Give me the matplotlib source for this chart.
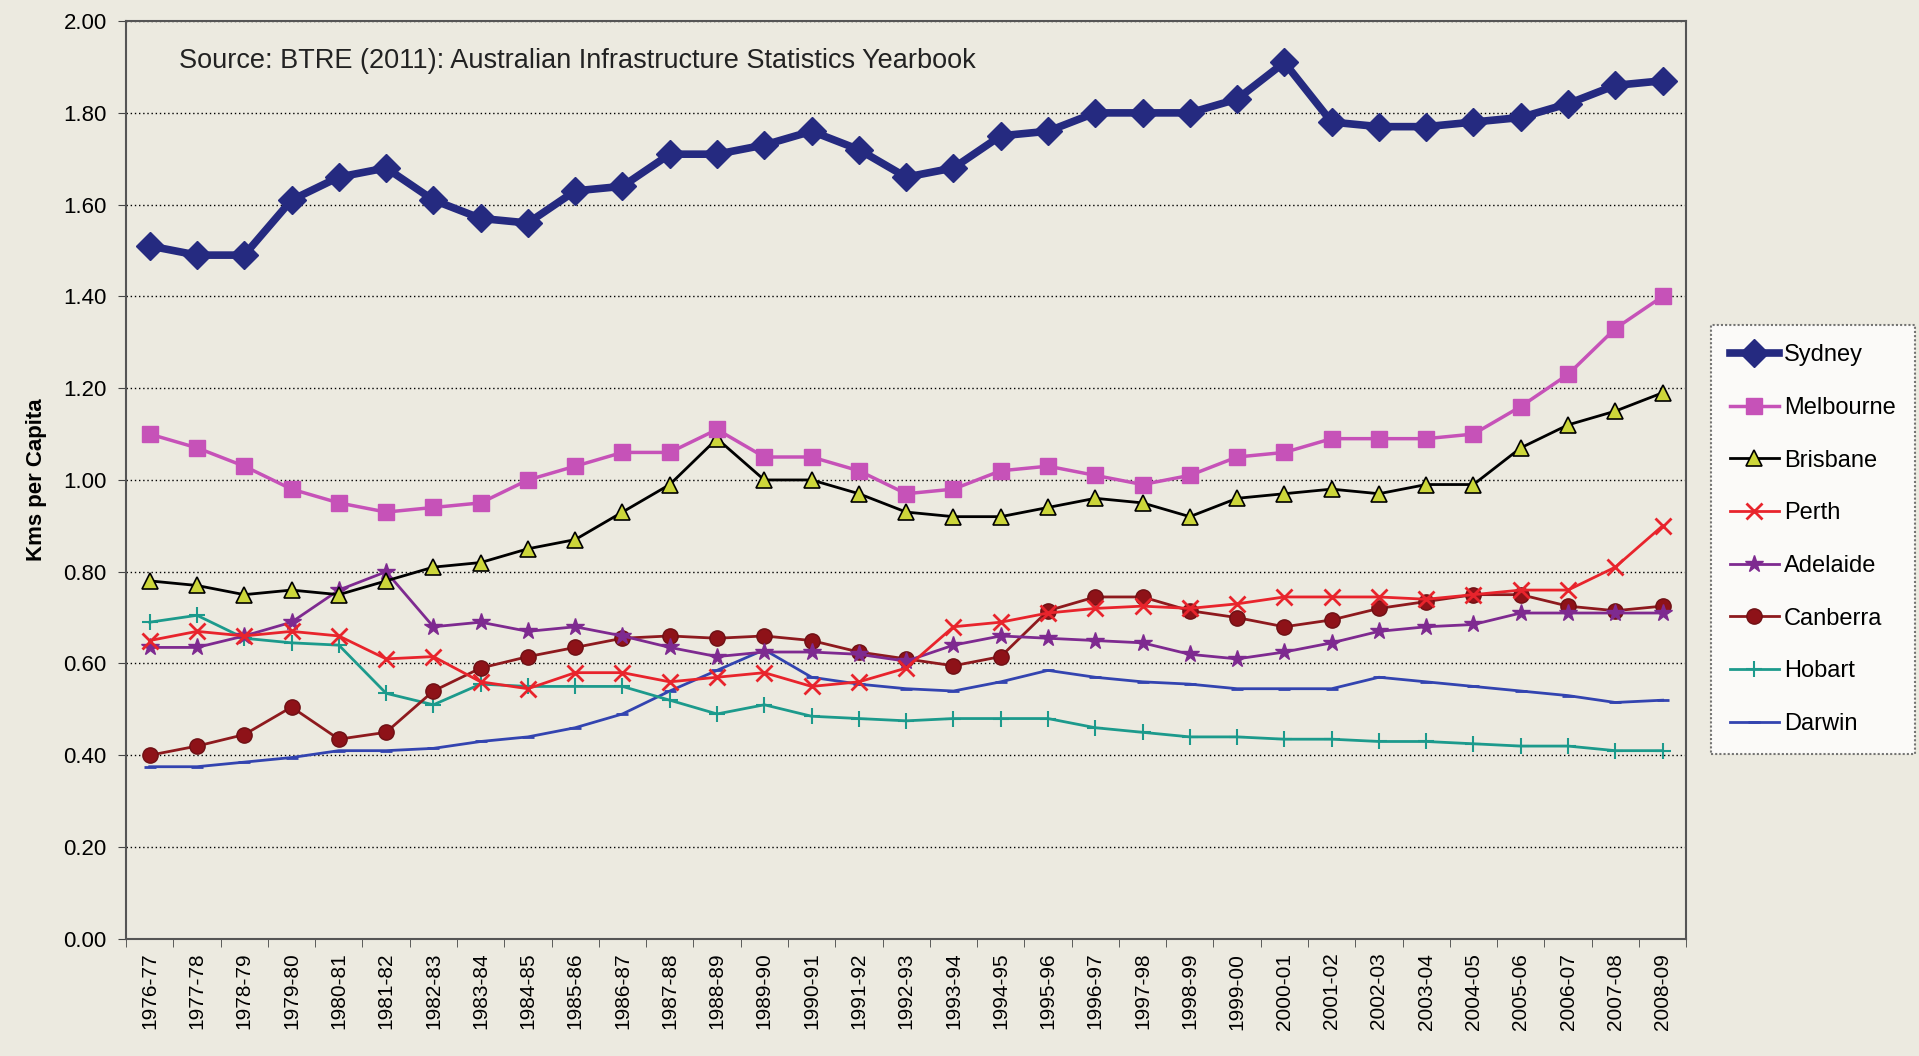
import matplotlib.pyplot as plt
import numpy as np

plt.rcParams['font.family'] = ['Liberation Sans', 'DejaVu Sans']

years = ['1976-77', '1977-78', '1978-79', '1979-80', '1980-81', '1981-82', '1982-83',
         '1983-84', '1984-85', '1985-86', '1986-87', '1987-88', '1988-89', '1989-90',
         '1990-91', '1991-92', '1992-93', '1993-94', '1994-95', '1995-96', '1996-97',
         '1997-98', '1998-99', '1999-00', '2000-01', '2001-02', '2002-03', '2003-04',
         '2004-05', '2005-06', '2006-07', '2007-08', '2008-09']

sydney = [1.51, 1.49, 1.49, 1.61, 1.66, 1.68, 1.61, 1.57, 1.56, 1.63, 1.64, 1.71, 1.71,
          1.73, 1.76, 1.72, 1.66, 1.68, 1.75, 1.76, 1.80, 1.80, 1.80, 1.83, 1.91, 1.78,
          1.77, 1.77, 1.78, 1.79, 1.82, 1.86, 1.87]
melbourne = [1.10, 1.07, 1.03, 0.98, 0.95, 0.93, 0.94, 0.95, 1.00, 1.03, 1.06, 1.06, 1.11,
             1.05, 1.05, 1.02, 0.97, 0.98, 1.02, 1.03, 1.01, 0.99, 1.01, 1.05, 1.06, 1.09,
             1.09, 1.09, 1.10, 1.16, 1.23, 1.33, 1.40]
brisbane = [0.78, 0.77, 0.75, 0.76, 0.75, 0.78, 0.81, 0.82, 0.85, 0.87, 0.93, 0.99, 1.09,
            1.00, 1.00, 0.97, 0.93, 0.92, 0.92, 0.94, 0.96, 0.95, 0.92, 0.96, 0.97, 0.98,
            0.97, 0.99, 0.99, 1.07, 1.12, 1.15, 1.19]
perth = [0.65, 0.67, 0.66, 0.67, 0.66, 0.61, 0.615, 0.56, 0.545, 0.58, 0.58, 0.56, 0.57,
         0.58, 0.55, 0.56, 0.59, 0.68, 0.69, 0.71, 0.72, 0.725, 0.72, 0.73, 0.745, 0.745,
         0.745, 0.74, 0.75, 0.76, 0.76, 0.81, 0.90]
adelaide = [0.635, 0.635, 0.66, 0.69, 0.76, 0.80, 0.68, 0.69, 0.67, 0.68, 0.66, 0.635, 0.615,
            0.625, 0.625, 0.62, 0.605, 0.64, 0.66, 0.655, 0.65, 0.645, 0.62, 0.61, 0.625,
            0.645, 0.67, 0.68, 0.685, 0.71, 0.71, 0.71, 0.71]
canberra = [0.40, 0.42, 0.445, 0.505, 0.435, 0.45, 0.54, 0.59, 0.615, 0.635, 0.655, 0.66,
            0.655, 0.66, 0.65, 0.625, 0.61, 0.595, 0.615, 0.715, 0.745, 0.745, 0.715, 0.70,
            0.68, 0.695, 0.72, 0.735, 0.75, 0.75, 0.725, 0.715, 0.725]
hobart = [0.69, 0.705, 0.655, 0.645, 0.64, 0.535, 0.51, 0.555, 0.55, 0.55, 0.55, 0.52, 0.49,
          0.51, 0.485, 0.48, 0.475, 0.48, 0.48, 0.48, 0.46, 0.45, 0.44, 0.44, 0.435, 0.435,
          0.43, 0.43, 0.425, 0.42, 0.42, 0.41, 0.41]
darwin = [0.375, 0.375, 0.385, 0.395, 0.41, 0.41, 0.415, 0.43, 0.44, 0.46, 0.49, 0.54, 0.585,
          0.63, 0.57, 0.555, 0.545, 0.54, 0.56, 0.585, 0.57, 0.56, 0.555, 0.545, 0.545,
          0.545, 0.57, 0.56, 0.55, 0.54, 0.53, 0.515, 0.52]

bg = '#ECEAE0'
fig = plt.figure(figsize=(19.19, 10.56), dpi=100, facecolor=bg)
ax = fig.add_axes([0.0657, 0.111, 0.813, 0.869])
ax.set_facecolor(bg)

x = np.arange(len(years))

# series drawn bottom-up so Sydney sits on top
ax.plot(x, darwin, color='#3344B0', lw=2, marker='_', ms=9, mew=2, label='Darwin')
ax.plot(x, hobart, color='#1C9A8C', lw=2, marker='+', ms=11, mew=1.5, label='Hobart')
ax.plot(x, canberra, color='#8E1A1E', lw=2, marker='o', ms=11, mfc='#8E1218', mec='#6E1014', label='Canberra')
ax.plot(x, adelaide, color='#7E2A90', lw=2, marker='*', ms=13, mew=1, label='Adelaide')
ax.plot(x, perth, color='#E8242C', lw=2, marker='x', ms=11, mew=2, label='Perth')
ax.plot(x, brisbane, color='black', lw=2, marker='^', ms=11, mfc='#CCD63A', mec='black', mew=1.2, label='Brisbane')
ax.plot(x, melbourne, color='#C652B8', lw=2.5, marker='s', ms=11, mfc='#C652B8', mec='#C652B8', label='Melbourne')
ax.plot(x, sydney, color='#252A80', lw=5.5, marker='D', ms=14, mfc='#252A80', mec='#252A80', label='Sydney')

ax.set_xlim(-0.5, len(years) - 0.5)
ax.set_ylim(0, 2.0)
ax.set_yticks(np.arange(0, 2.01, 0.2))
ax.set_yticklabels(['%.2f' % v for v in np.arange(0, 2.01, 0.2)], fontsize=16)
ax.set_xticks(x)
ax.set_xticklabels(years, rotation=90, fontsize=15)
ax.set_xticks(np.arange(-0.5, len(years), 1), minor=True)
ax.tick_params(axis='x', which='major', length=0, pad=10)
ax.tick_params(axis='x', which='minor', length=6, color='#444444')
ax.tick_params(axis='y', length=6, color='#444444', pad=8)

ax.yaxis.grid(True, color='black', linestyle=(0, (1, 2)), linewidth=1)
ax.set_axisbelow(True)
for s in ax.spines.values():
    s.set_linestyle((0, (1, 1)))
    s.set_color('#555555')
    s.set_linewidth(1.5)

ax.set_ylabel('Kms per Capita', fontsize=16, fontweight='bold', labelpad=12)

ax.text(0.62, 1.912, 'Source: BTRE (2011): Australian Infrastructure Statistics Yearbook',
        fontsize=19.5, color='#222222', va='center')

handles, labels = ax.get_legend_handles_labels()
leg = fig.legend(handles[::-1], labels[::-1], loc='upper left',
                 bbox_to_anchor=(0.8915, 0.692), fontsize=17, frameon=True,
                 fancybox=False, labelspacing=1.3, handlelength=2.1,
                 handletextpad=0.2, borderpad=0.8, borderaxespad=0)
leg.get_frame().set_facecolor('white')
leg.get_frame().set_edgecolor('#555555')
leg.get_frame().set_linestyle((0, (1, 1)))
leg.get_frame().set_linewidth(1.5)

fig.savefig('out.png', dpi=100, facecolor=bg)
